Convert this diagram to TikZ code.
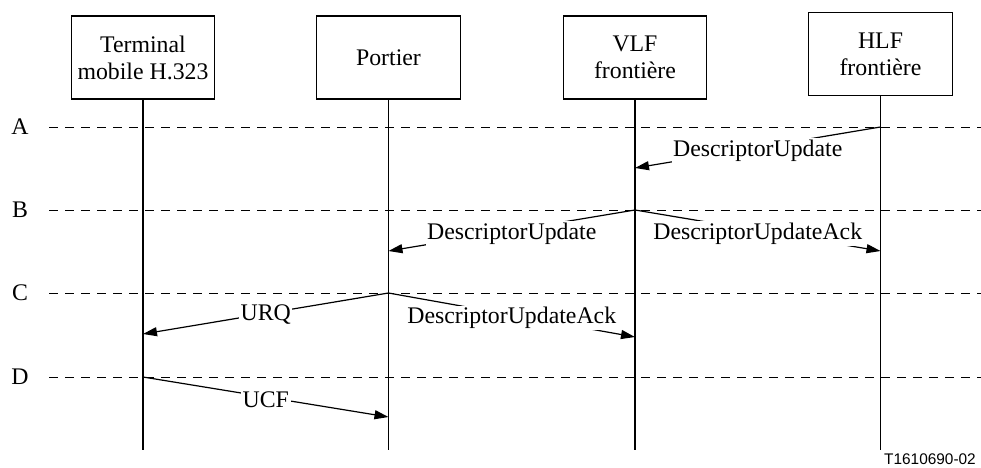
\documentclass[tikz,border=0pt]{standalone}
\usepackage{fontspec}
\setmainfont{Liberation Serif}
\newfontfamily\figsans{Liberation Sans}
\usetikzlibrary{arrows.meta}
\begin{document}
\begin{tikzpicture}[x=0.5pt,y=-0.5pt,
  every node/.style={font=\fontsize{11.9}{13.5}\selectfont},
  actor/.style={draw, line width=0.6pt, minimum width=71.75pt, minimum height=41.5pt,
                align=center, inner sep=0pt},
  life/.style={line width=0.6pt},
  phase/.style={dash pattern=on 4.5pt off 3.5pt, line width=0.5pt},
  msg/.style={line width=0.6pt, -{Triangle[length=7pt,width=4.5pt]}},
  lbl/.style={fill=white, inner sep=0.8pt, pos=0.5, yshift=-1.5pt}]
\useasboundingbox (0,0) rectangle (981,467);

% participants
\node[actor] (term) at (143,57.5)  {Terminal\\mobile H.323};
\node[actor] (port) at (388.5,57.5) {Portier};
\node[actor] (vlf)  at (635,57.5)  {VLF\\frontière};
\node[actor] (hlf)  at (880.5,54)  {HLF\\frontière};

% phase lines
\foreach \p/\y in {A/127,B/210,C/293,D/377}{
  \node (lab\p) at (20,\y) {\p};
  \coordinate (\p-l) at (49,\y);
  \coordinate (\p-r) at (981,\y);
  \draw[phase] (\p-l) -- (\p-r);
}

% lifelines
\foreach \n/\x in {term/143,port/388.5,vlf/635,hlf/880.5}{
  \coordinate (\n-end) at (\x,450);
  \draw[life] (\n.south) -- (\n-end);
}

% message end points on the lifelines
\coordinate (hlfA) at (hlf |- A-l);
\coordinate (vlfA) at (635,168);
\coordinate (vlfB) at (vlf |- B-l);
\coordinate (portB) at (388.5,251);
\coordinate (hlfB) at (880.5,251);
\coordinate (portC) at (port |- C-l);
\coordinate (termC) at (143,334);
\coordinate (vlfC) at (635,337);
\coordinate (termD) at (term |- D-l);
\coordinate (portD) at (388.5,417);

% messages
\draw[msg] (hlfA) -- node[lbl] (m1) {DescriptorUpdate} (vlfA);
\draw[msg] (vlfB) -- node[lbl] (m2) {DescriptorUpdate} (portB);
\draw[msg] (vlfB) -- node[lbl] (m3) {DescriptorUpdateAck} (hlfB);
\draw[msg] (portC) -- node[lbl,yshift=1pt] (m4) {URQ} (termC);
\draw[msg] (portC) -- node[lbl] (m5) {DescriptorUpdateAck} (vlfC);
\draw[msg] (termD) -- node[lbl] (m6) {UCF} (portD);

% figure reference
\node[font=\figsans\fontsize{7.7}{9}\selectfont] (tag) at (930,459) {T1610690-02};
\end{tikzpicture}
\end{document}
